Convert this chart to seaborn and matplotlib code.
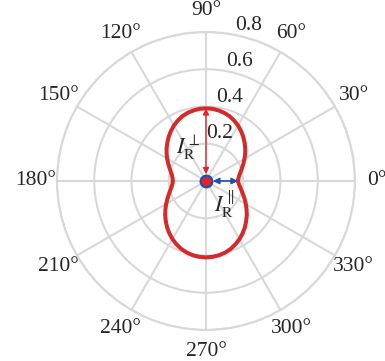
import numpy as np
import pandas as pd
import matplotlib
matplotlib.use("Agg")
import matplotlib.pyplot as plt
import seaborn as sns

# Scattered intensity versus scattering angle (degrees, every 5°)
angle_deg = list(range(0, 361, 5))
intensity = [
    # 0° .. 90°
    0.172, 0.175, 0.182, 0.193, 0.206, 0.222, 0.239, 0.257, 0.275, 0.293,
    0.311, 0.328, 0.344, 0.358, 0.370, 0.379, 0.385, 0.389, 0.390,
    # 95° .. 180°
    0.389, 0.385, 0.379, 0.370, 0.358, 0.344, 0.328, 0.311, 0.293, 0.276,
    0.258, 0.241, 0.224, 0.209, 0.196, 0.186, 0.180, 0.178,
    # 185° .. 270°
    0.181, 0.188, 0.199, 0.213, 0.229, 0.247, 0.266, 0.286, 0.305, 0.325,
    0.343, 0.360, 0.375, 0.388, 0.398, 0.405, 0.409, 0.410,
    # 275° .. 360°
    0.409, 0.405, 0.398, 0.388, 0.375, 0.360, 0.343, 0.325, 0.305, 0.286,
    0.266, 0.247, 0.229, 0.212, 0.198, 0.186, 0.177, 0.172,
]

theta_ticks = list(range(0, 360, 30))
theta_labels = [f"{t}°" for t in theta_ticks]
r_ticks = [0.2, 0.4, 0.6, 0.8]
r_labels = ["0.2", "0.4", "0.6", "0.8"]
r_label_angle = 75

# Perpendicular and parallel components taken from the curve itself
i_perp = intensity[angle_deg.index(90)]
i_par = intensity[angle_deg.index(0)]

sns.set_theme(style="white")
plt.rcParams["font.family"] = ["Liberation Serif", "DejaVu Serif"]
plt.rcParams["mathtext.fontset"] = "stix"

curve_red = "#d42a2a"
arrow_red = "#e8202a"
arrow_blue = "#1f4fa8"
grid_gray = "#d8d8d8"

df = pd.DataFrame({"theta": np.deg2rad(angle_deg), "r": intensity})

fig = plt.figure(figsize=(3.85, 3.61), dpi=100)
ax = fig.add_axes([0.148, 0.0859, 0.774, 0.8255], projection="polar")

sns.lineplot(data=df, x="theta", y="r", sort=False, estimator=None,
             ax=ax, color=curve_red, lw=2.9, zorder=3)

ax.set_ylim(0, 0.8)
ax.set_thetagrids(theta_ticks, theta_labels, fontsize=15.5)
ax.set_rgrids(r_ticks, labels=[""] * len(r_ticks))
ax.tick_params(axis="x", pad=2.5)
ax.grid(True, color=grid_gray, lw=1.5)
ax.spines["polar"].set_color(grid_gray)
ax.spines["polar"].set_linewidth(1.5)
ax.set_xlabel("")
ax.set_ylabel("")

# Radial tick labels along a single ray
for v, lab in zip(r_ticks, r_labels):
    ax.annotate(lab, xy=(np.deg2rad(r_label_angle), v), xytext=(3.0, 8.5),
                textcoords="offset points", ha="center", va="center",
                fontsize=15.5)

# Component arrows
ax.annotate("", xy=(np.pi / 2, i_perp), xytext=(np.pi / 2, 0),
            arrowprops=dict(arrowstyle="<|-|>", color=arrow_red, lw=1.0,
                            shrinkA=5, shrinkB=0, mutation_scale=9),
            zorder=4)
ax.annotate("", xy=(0, i_par), xytext=(0, 0),
            arrowprops=dict(arrowstyle="<|-|>", color=arrow_blue, lw=1.2,
                            shrinkA=5, shrinkB=0, mutation_scale=9),
            zorder=4)

ax.scatter([0], [0], s=70, c=arrow_red, edgecolors=arrow_blue,
           linewidths=1.6, zorder=6, clip_on=False)

ax.annotate(r"$I_{\mathrm{R}}^{\perp}$", xy=(np.pi / 2, i_perp / 2),
            xytext=(-13, -2), textcoords="offset points",
            ha="center", va="center", fontsize=16)
ax.annotate(r"$I_{\mathrm{R}}^{\parallel}$", xy=(0, i_par / 2),
            xytext=(1.5, -17), textcoords="offset points",
            ha="center", va="center", fontsize=16)

fig.savefig("out.png", dpi=100)
